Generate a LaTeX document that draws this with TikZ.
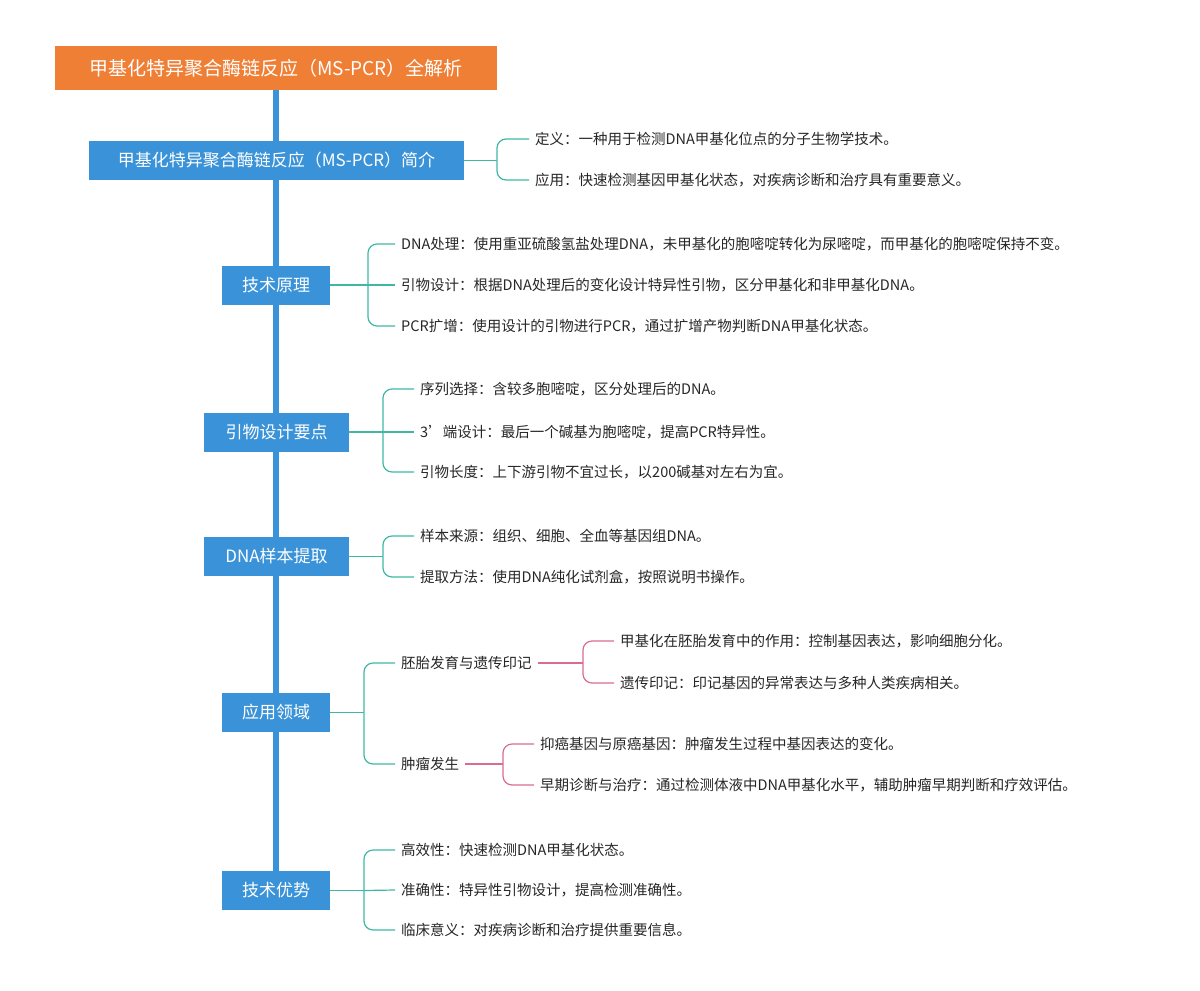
\documentclass[tikz,border=0pt]{standalone}
\usepackage{fontspec}
\usetikzlibrary{backgrounds}
\setmainfont{Noto Sans CJK SC}
\definecolor{cblue}{HTML}{3A93D8}
\definecolor{corange}{HTML}{F07F36}
\definecolor{cteal}{HTML}{3DB8A5}
\definecolor{cpink}{HTML}{D96C93}
\begin{document}
\begin{tikzpicture}[x=1pt,y=-1pt,
 mainbox/.style={fill=cblue,text=white,font=\fontsize{17}{20}\selectfont,inner sep=0pt,minimum height=39pt},
 leaf/.style={anchor=west,inner xsep=6pt,inner ysep=2pt,font=\fontsize{14.5}{17}\selectfont,text=black!85},
 conn/.style={cteal,line width=1.2pt},
 pconn/.style={cpink,line width=1.2pt},
 rc/.style={rounded corners=9pt}]
\useasboundingbox (0,0) rectangle (1200,991);
\node[fill=corange,text=white,font=\fontsize{19}{22}\selectfont,minimum width=442pt,minimum height=44pt,inner sep=0pt] (title) at (276,68) {甲基化特异聚合酶链反应（MS-PCR）全解析};
\node[mainbox,minimum width=375pt] (b1) at (276.5,160.5) {甲基化特异聚合酶链反应（MS-PCR）简介};
\node[mainbox,minimum width=108pt] (b2) at (276,285) {技术原理};
\node[mainbox,minimum width=145pt] (b3) at (276.5,432) {引物设计要点};
\node[mainbox,minimum width=145pt] (b4) at (276.5,556.5) {DNA样本提取};
\node[mainbox,minimum width=108pt] (b5) at (276,712.5) {应用领域};
\node[mainbox,minimum width=108pt] (b6) at (276,890.5) {技术优势};
\begin{pgfonlayer}{background}
\draw[cblue,line width=6pt] (title.south) -- (b6.north);
\end{pgfonlayer}
% leaves
\node[leaf] (l11) at (529,139) {定义：一种用于检测DNA甲基化位点的分子生物学技术。};
\node[leaf] (l12) at (529,180) {应用：快速检测基因甲基化状态，对疾病诊断和治疗具有重要意义。};
\node[leaf] (l21) at (395,244) {DNA处理：使用重亚硫酸氢盐处理DNA，未甲基化的胞嘧啶转化为尿嘧啶，而甲基化的胞嘧啶保持不变。};
\node[leaf] (l22) at (395,285) {引物设计：根据DNA处理后的变化设计特异性引物，区分甲基化和非甲基化DNA。};
\node[leaf] (l23) at (395,326) {PCR扩增：使用设计的引物进行PCR，通过扩增产物判断DNA甲基化状态。};
\node[leaf] (l31) at (414,389) {序列选择：含较多胞嘧啶，区分处理后的DNA。};
\node[leaf] (l32) at (414,432) {3'端设计：最后一个碱基为胞嘧啶，提高PCR特异性。};
\node[leaf] (l33) at (414,472) {引物长度：上下游引物不宜过长，以200碱基对左右为宜。};
\node[leaf] (l41) at (414,536) {样本来源：组织、细胞、全血等基因组DNA。};
\node[leaf] (l42) at (414,577) {提取方法：使用DNA纯化试剂盒，按照说明书操作。};
\node[leaf] (s1) at (395,663) {胚胎发育与遗传印记};
\node[leaf] (s2) at (395,764) {肿瘤发生};
\node[leaf] (l511) at (614,641) {甲基化在胚胎发育中的作用：控制基因表达，影响细胞分化。};
\node[leaf] (l512) at (614,683) {遗传印记：印记基因的异常表达与多种人类疾病相关。};
\node[leaf] (l521) at (534,744) {抑癌基因与原癌基因：肿瘤发生过程中基因表达的变化。};
\node[leaf] (l522) at (534,785) {早期诊断与治疗：通过检测体液中DNA甲基化水平，辅助肿瘤早期判断和疗效评估。};
\node[leaf] (l61) at (395,850) {高效性：快速检测DNA甲基化状态。};
\node[leaf] (l62) at (395,890) {准确性：特异性引物设计，提高检测准确性。};
\node[leaf] (l63) at (395,930) {临床意义：对疾病诊断和治疗提供重要信息。};
% connectors
\draw[conn] (b1.east) -- (497,160.5) coordinate (j1);
\draw[conn,rc] (j1) |- (l11.west); \draw[conn,rc] (j1) |- (l12.west);
\draw[conn] (b2.east) -- (368,285) coordinate (j2);
\draw[conn,rc] (j2) |- (l21.west); \draw[conn] (j2) -- (l22.west); \draw[conn,rc] (j2) |- (l23.west);
\draw[conn] (b3.east) -- (383,432) coordinate (j3);
\draw[conn,rc] (j3) |- (l31.west); \draw[conn] (j3) -- (l32.west); \draw[conn,rc] (j3) |- (l33.west);
\draw[conn] (b4.east) -- (383,556.5) coordinate (j4);
\draw[conn,rc] (j4) |- (l41.west); \draw[conn,rc] (j4) |- (l42.west);
\draw[conn] (b5.east) -- (364,712.5) coordinate (j5);
\draw[conn,rc] (j5) |- (s1.west); \draw[conn,rc] (j5) |- (s2.west);
\draw[pconn] (s1.east) -- (583,663) coordinate (j51);
\draw[pconn,rc] (j51) |- (l511.west); \draw[pconn,rc] (j51) |- (l512.west);
\draw[pconn] (s2.east) -- (503,764) coordinate (j52);
\draw[pconn,rc] (j52) |- (l521.west); \draw[pconn,rc] (j52) |- (l522.west);
\draw[conn] (b6.east) -- (364,890.5) coordinate (j6);
\draw[conn,rc] (j6) |- (l61.west); \draw[conn] (j6) -- (l62.west); \draw[conn,rc] (j6) |- (l63.west);
\end{tikzpicture}
\end{document}
